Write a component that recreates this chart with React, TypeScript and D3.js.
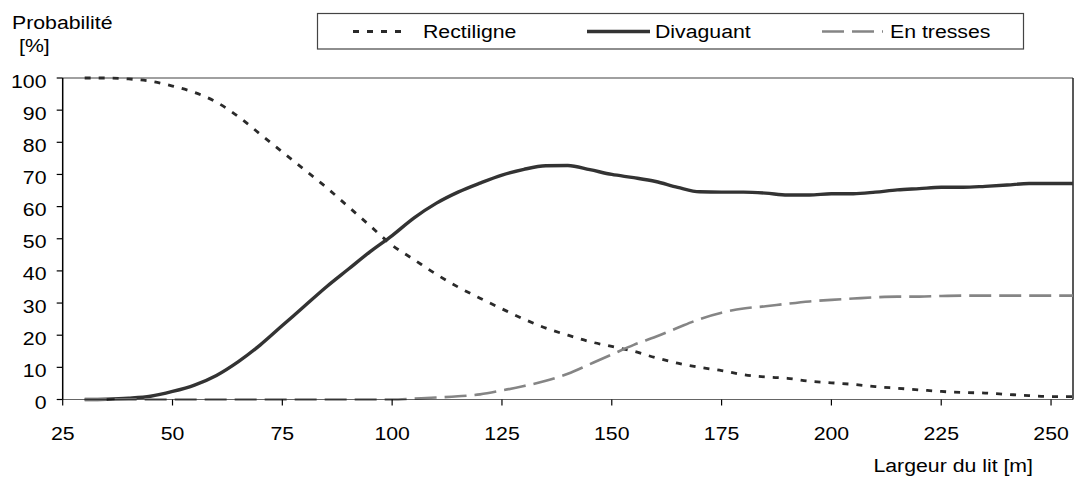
import React from "react";
import * as d3 from "d3";

const widths = [30, 35, 40, 45, 50, 55, 60, 65, 70, 75, 80, 85, 90, 95, 100, 105, 110, 115, 120, 125, 130, 135, 140, 145, 150, 155, 160, 165, 170, 175, 180, 185, 190, 195, 200, 205, 210, 215, 220, 225, 230, 235, 240, 245, 250, 255];
const rectiligne = [100, 100, 99.7, 99, 97.5, 95.5, 92.5, 88, 82.5, 77, 71.5, 66, 60, 54, 48, 43.5, 39, 35, 31.5, 28.2, 25, 22.2, 20, 18, 16.5, 15, 13, 11.3, 10, 9, 7.7, 7, 6.6, 5.7, 5.2, 4.7, 4, 3.5, 3, 2.5, 2.2, 2, 1.6, 1.2, 0.9, 0.9];
const divaguant = [0, 0.1, 0.4, 1, 2.5, 4.5, 7.5, 11.8, 17, 23, 29, 35, 40.5, 46, 51, 56.5, 61, 64.5, 67.3, 69.8, 71.6, 72.7, 72.8, 71.5, 70, 69, 67.8, 66, 64.6, 64.5, 64.5, 64.2, 63.6, 63.6, 64, 64, 64.5, 65.2, 65.6, 66, 66, 66.3, 66.7, 67.2, 67.2, 67.2];
const enTresses = [0, 0, 0, 0, 0, 0, 0, 0, 0, 0, 0, 0, 0, 0, 0, 0.3, 0.6, 1, 1.6, 2.8, 4.2, 5.8, 8, 11, 14, 17, 19.5, 22.3, 25, 27, 28.3, 29, 29.8, 30.5, 31, 31.4, 31.8, 32, 32, 32.2, 32.3, 32.3, 32.3, 32.3, 32.3, 32.3];
const xTicks = [25, 50, 75, 100, 125, 150, 175, 200, 225, 250];
const yTicks = [0, 10, 20, 30, 40, 50, 60, 70, 80, 90, 100];
const seriesNames = ["Rectiligne", "Divaguant", "En tresses"];

const FONT = "'Liberation Sans', Arial, sans-serif";
const FS = 19;
const SX = 1.12;

function T({ x, y, anchor = "start", children }: { x: number; y: number; anchor?: string; children: React.ReactNode }) {
  return (
    <text
      transform={`translate(${x},${y}) scale(${SX},1)`}
      textAnchor={anchor as any}
      fontFamily={FONT}
      fontSize={FS}
      fill="#000"
    >
      {children}
    </text>
  );
}

export default function App() {
  const W = 1075, H = 482;
  const left = 62.7, right = 1073, top = 78, bottom = 399.5;
  const x = d3.scaleLinear().domain([25, 255]).range([left, right]);
  const y = d3.scaleLinear().domain([0, 100]).range([bottom, top]);
  const mk = (vals: number[]) =>
    d3.line<number>().x((_, i) => x(widths[i])).y((d) => y(d)).curve(d3.curveMonotoneX)(vals) || "";

  const styles = [
    { stroke: "#2a2a2a", width: 2.8, dash: "6 8" },
    { stroke: "#333", width: 3.4, dash: "" },
    { stroke: "#858585", width: 2.6, dash: "22 8" },
  ];
  const data = [rectiligne, divaguant, enTresses];
  const legendItems = [
    { x1: 353, x2: 408, tx: 423 },
    { x1: 587, x2: 650, tx: 655 },
    { x1: 822, x2: 883, tx: 890 },
  ];

  return (
    <svg width={W} height={H} style={{ position: "absolute", left: 0, top: 0, background: "#fff" }}>
      <rect x={0} y={0} width={W} height={H} fill="#fff" />
      <line x1={left} x2={right} y1={top} y2={top} stroke="#808080" strokeWidth={1.5} />
      <line x1={right} x2={right} y1={top} y2={bottom} stroke="#222" strokeWidth={1.5} />
      {data.map((vals, i) => (
        <path key={i} d={mk(vals)} fill="none" stroke={styles[i].stroke} strokeWidth={styles[i].width}
          strokeDasharray={styles[i].dash || undefined} strokeLinejoin="round" />
      ))}
      <line x1={left} x2={left} y1={top} y2={bottom} stroke="#000" strokeWidth={1.5} />
      <line x1={left} x2={right} y1={bottom} y2={bottom} stroke="#000" strokeWidth={1.2} opacity={0.6} />
      {yTicks.map((t) => (
        <g key={t}>
          <line x1={left - 6} x2={left} y1={y(t)} y2={y(t)} stroke="#000" strokeWidth={1.2} />
          <T x={46.5} y={y(t) + 9.5} anchor="end">{t}</T>
        </g>
      ))}
      {xTicks.map((t) => (
        <g key={t}>
          <line x1={x(t)} x2={x(t)} y1={bottom} y2={bottom + 6} stroke="#000" strokeWidth={1.2} />
          <T x={x(t)} y={440} anchor="middle">{t}</T>
        </g>
      ))}
      <T x={12} y={29}>Probabilité</T>
      <T x={19} y={52}>[%]</T>
      <T x={1033} y={471.5} anchor="end">Largeur du lit [m]</T>
      <rect x={317.5} y={13.5} width={706} height={35.5} fill="#fff" stroke="#444" strokeWidth={1.2} />
      {legendItems.map((it, i) => (
        <g key={i}>
          <line x1={it.x1} x2={it.x2} y1={31.5} y2={31.5} stroke={styles[i].stroke} strokeWidth={styles[i].width}
            strokeDasharray={styles[i].dash || undefined} />
          <T x={it.tx} y={38}>{seriesNames[i]}</T>
        </g>
      ))}
    </svg>
  );
}
